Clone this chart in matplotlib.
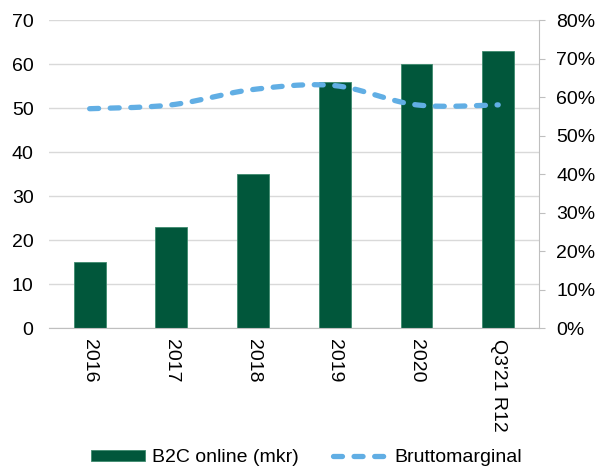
import numpy as np
import matplotlib.pyplot as plt

plt.rcParams['font.family'] = ['Liberation Sans', 'DejaVu Sans']

categories = ['2016', '2017', '2018', '2019', '2020', "Q3'21 R12"]
b2c_online = [15, 23, 35, 56, 60, 63]
bruttomarginal = [57, 58, 62, 63, 58, 58]  # percent

green = '#01573B'
blue = '#61AEE4'
fs = 14


def smooth_curve(xs, ys, n=40):
    # cubic Bezier smoothing through every point (same style as spreadsheet "smoothed line")
    pts = np.column_stack([xs, ys]).astype(float)
    out = []
    for i in range(len(pts) - 1):
        p0 = pts[max(i - 1, 0)]
        p1 = pts[i]
        p2 = pts[i + 1]
        p3 = pts[min(i + 2, len(pts) - 1)]
        c1 = p1 + (p2 - p0) / 6
        c2 = p2 - (p3 - p1) / 6
        t = np.linspace(0, 1, n)[:, None]
        seg = ((1 - t) ** 3) * p1 + 3 * ((1 - t) ** 2) * t * c1 + 3 * (1 - t) * t ** 2 * c2 + t ** 3 * p2
        out.append(seg if i == 0 else seg[1:])
    out = np.vstack(out)
    return out[:, 0], out[:, 1]


fig = plt.figure(figsize=(5.95, 4.70), dpi=100)
ax = fig.add_axes([0.082, 0.302, 0.824, 0.655])
x = np.arange(len(categories))

ax.bar(x, b2c_online, width=0.39, color=green, edgecolor='#3E8A6E', linewidth=0.6,
       label='B2C online (mkr)', zorder=2)
ax.set_xlim(-0.5, len(categories) - 0.5)
ax.set_ylim(0, 70)
ax.set_yticks(range(0, 71, 10))
ax.yaxis.grid(True, color='#D9D9D9', linewidth=1)
ax.set_axisbelow(True)
ax.set_xticks(x)
ax.set_xticklabels(categories, rotation=270, fontsize=fs)
ax.tick_params(axis='x', length=0, pad=8)
ax.tick_params(axis='y', length=0, labelsize=fs, pad=11)
for s in ['top', 'left', 'right']:
    ax.spines[s].set_visible(False)
ax.spines['bottom'].set_color('#BFBFBF')

ax2 = ax.twinx()
# smooth in the primary-axis scale so the curve shape follows screen space
sx, sy = smooth_curve(x, [v / 100 * 70 / 0.8 for v in bruttomarginal])
ax2.set_ylim(0, 0.8)
ax2.plot(sx, sy / 70 * 0.8, color=blue, linewidth=3.8, linestyle=(0, (1.7, 2.2)),
         solid_capstyle='round', dash_capstyle='round', label='Bruttomarginal', zorder=3)
ax2.set_yticks(np.arange(0, 0.81, 0.1))
ax2.set_yticklabels([f'{int(round(v * 100))}%' for v in np.arange(0, 0.81, 0.1)])
ax2.tick_params(axis='y', length=4.5, color='#BFBFBF', labelsize=fs, pad=8)
for s in ['top', 'left', 'bottom']:
    ax2.spines[s].set_visible(False)
ax2.spines['right'].set_color('#BFBFBF')

h1, l1 = ax.get_legend_handles_labels()
h2, l2 = ax2.get_legend_handles_labels()
fig.legend(h1 + h2, l1 + l2, loc='center', bbox_to_anchor=(0.515, 0.026), ncol=2,
           frameon=False, fontsize=fs, handlelength=2.8, handleheight=0.5,
           columnspacing=1.75, handletextpad=0.35, borderpad=0)

fig.savefig('out.png', dpi=100)
